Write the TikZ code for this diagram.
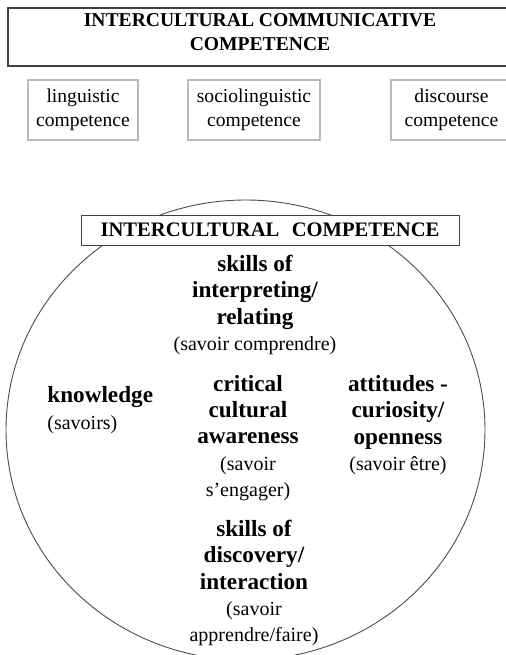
\documentclass[tikz,border=0pt]{standalone}
\usepackage{fontspec}
\setmainfont{Liberation Serif}
\usetikzlibrary{positioning}

\newcommand{\savtext}{\fontsize{10}{11.5}\selectfont\mdseries}

\begin{document}
\begin{tikzpicture}[
    x=0.5pt, y=-0.5pt,
    mainbox/.style={
        rectangle,
        draw=black!75,
        line width=0.7pt,
        fill=white,
        inner sep=0pt,
        font=\fontsize{9.8}{12}\selectfont\bfseries,
        align=center
    },
    partbox/.style={
        rectangle,
        draw=gray!55,
        line width=1pt,
        fill=white,
        inner sep=0pt,
        minimum height=30pt,
        font=\fontsize{9.8}{12}\selectfont,
        align=center
    },
    area/.style={
        inner sep=0pt,
        font=\fontsize{11.6}{13.2}\selectfont\bfseries,
        align=center
    },
    ring/.style={draw=black!70, line width=0.45pt}
]
\useasboundingbox (0,0) rectangle (506,655);

% Overall model
\node[mainbox, minimum width=252pt, minimum height=29pt, text depth=5pt] (icc) at (260,37)
    {INTERCULTURAL COMMUNICATIVE\\COMPETENCE};

% Component boxes
\node[partbox, minimum width=55pt] (ling) at (83,110) {linguistic\\competence};
\node[partbox, minimum width=66pt] (socio) at (254,110) {sociolinguistic\\competence};
\node[partbox, minimum width=60.5pt] (disc) at (451.5,110) {discourse\\competence};

% Intercultural circle
\draw[ring] (245.5,430) ellipse [x radius=239.5, y radius=230];
\node[mainbox, line width=0.5pt, minimum width=189pt, minimum height=15pt,
      font=\fontsize{10.3}{12}\selectfont\bfseries] (ic) at (270,230)
    {INTERCULTURAL\hspace{0.6em}COMPETENCE};

% Savoirs inside the circle
\node[area] (interp) at (255,305)
    {skills of\\interpreting/\\relating\\{\savtext (savoir comprendre)}};
\node[area, align=left, anchor=west] (know) at (47,410)
    {knowledge\\{\savtext (savoirs)}};
\node[area] (crit) at (248,438)
    {critical\\cultural\\awareness\\{\savtext (savoir}\\{\savtext s’engager)}};
\node[area] (att) at (398,425)
    {attitudes -\\curiosity/\\openness\\{\savtext (savoir être)}};
\node[area] (disco) at (254,583)
    {skills of\\discovery/\\interaction\\{\savtext (savoir}\\{\savtext apprendre/faire)}};
\end{tikzpicture}
\end{document}
